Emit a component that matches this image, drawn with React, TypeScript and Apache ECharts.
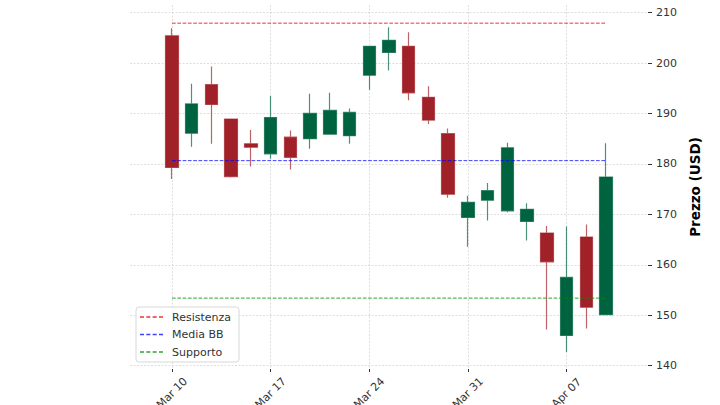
import React, { useEffect, useRef } from "react";
import * as echarts from "echarts";

const dates = ["Mar 10","Mar 11","Mar 12","Mar 13","Mar 14","Mar 17","Mar 18","Mar 19","Mar 20","Mar 21","Mar 24","Mar 25","Mar 26","Mar 27","Mar 28","Mar 31","Apr 01","Apr 02","Apr 03","Apr 04","Apr 07","Apr 08","Apr 09"];
const opens = [205.4,186.1,195.7,188.9,184.0,182.0,185.3,185.0,185.9,185.6,197.6,202.1,203.3,193.2,186.0,169.4,172.8,170.7,168.6,166.3,146.0,165.5,150.1];
const closes = [179.3,191.9,191.8,177.5,183.3,189.2,181.3,190.0,190.6,190.2,203.3,204.5,194.1,188.7,174.0,172.4,174.7,183.2,171.0,160.6,157.5,151.6,177.4];
const lows = [177.0,183.4,184.0,177.3,179.5,181.0,178.9,183.0,185.8,184.0,194.7,198.5,192.6,187.9,173.3,163.6,168.8,170.4,164.8,147.2,142.7,147.4,150.0];
const highs = [206.9,195.9,199.3,189.0,186.7,193.5,186.6,193.9,194.1,191.0,203.4,207.1,206.1,195.4,187.0,173.7,176.2,184.2,172.2,167.7,167.6,168.0,184.1];

const xTickIdx = [0, 5, 10, 15, 20];
const yTicks = [140, 150, 160, 170, 180, 190, 200, 210];

const levelNames = ["Resistenza", "Media BB", "Supporto"];
const levelValues = [207.9, 180.65, 153.4];
const levelColors = ["rgba(235,0,0,0.8)", "rgba(0,0,255,0.75)", "rgba(0,140,0,0.8)"];

const FONT = "DejaVu Sans";
const DASH_ICON = "path://M0,0h4v1.3h-4z M6.3,0h4v1.3h-4z M12.6,0h4v1.3h-4z M18.9,0h4v1.3h-4z";

export default function App() {
  const ref = useRef<HTMLDivElement>(null);
  useEffect(() => {
    if (!ref.current) return;
    const chart = echarts.init(ref.current, null, { renderer: "svg" });
    const candleData = dates.map((_, i) => [i, opens[i], closes[i], lows[i], highs[i]]);
    const gridLine = { show: true, lineStyle: { color: "#d6d6d6", width: 0.8, type: [2, 1.5] } };
    const lastIdx = dates.length - 1;
    chart.setOption({
      animation: false,
      backgroundColor: "#ffffff",
      grid: { left: 130, right: 72, top: 5, bottom: 36, containLabel: false, outerBoundsMode: "none" },
      xAxis: {
        type: "value",
        min: -2.13,
        max: lastIdx + 2.13,
        axisLine: { show: false, onZero: false },
        axisTick: { show: true, customValues: xTickIdx, length: 3, lineStyle: { color: "#333" } },
        axisLabel: {
          customValues: xTickIdx,
          formatter: (v: number) => dates[Math.round(v)] ?? "",
          rotate: 45,
          align: "center",
          verticalAlign: "middle",
          margin: 24,
          fontSize: 11,
          fontFamily: FONT,
          color: "#333",
          hideOverlap: false,
        },
        splitLine: gridLine,
      },
      yAxis: {
        type: "value",
        position: "right",
        min: 139.35,
        max: 211.5,
        axisLine: { show: false, onZero: false },
        axisTick: { show: true, customValues: yTicks, length: 4, lineStyle: { color: "#333" } },
        axisLabel: { customValues: yTicks, margin: 8, fontSize: 11, fontFamily: FONT, color: "#333" },
        splitLine: gridLine,
        name: "Prezzo (USD)",
        nameLocation: "middle",
        nameRotate: 90,
        nameGap: 34,
        nameTextStyle: { fontWeight: "bold", fontSize: 13.5, fontFamily: FONT, color: "#000" },
      },
      legend: {
        data: levelNames.map((name) => ({ name, icon: DASH_ICON })),
        orient: "vertical",
        left: 136,
        top: 307,
        itemWidth: 23,
        itemHeight: 2,
        itemGap: 4.5,
        padding: [3.5, 8, 3.5, 4],
        borderColor: "#d8d8d8",
        borderWidth: 1,
        borderRadius: 3,
        backgroundColor: "rgba(255,255,255,0.85)",
        itemStyle: { borderWidth: 0 },
        textStyle: { fontSize: 11, fontFamily: FONT, color: "#333", lineHeight: 13, padding: [0, 0, 0, 4] },
      },
      series: [
        {
          type: "candlestick",
          data: candleData,
          encode: { x: 0, y: [1, 2, 3, 4] },
          barWidth: 13,
          itemStyle: {
            color: "#006340",
            color0: "#a02128",
            borderColor: "rgba(0,99,64,0.7)",
            borderColor0: "rgba(160,33,40,0.7)",
            borderWidth: 1.2,
          },
        },
        ...levelNames.map((name, k) => ({
          type: "line",
          name,
          data: [[0, levelValues[k]], [lastIdx, levelValues[k]]],
          symbol: "none",
          silent: true,
          itemStyle: { color: levelColors[k] },
          lineStyle: { color: levelColors[k], width: 1, type: [3.7, 1.6] },
        })),
      ],
    });
    return () => chart.dispose();
  }, []);
  return <div ref={ref} style={{ position: "fixed", left: 0, top: 0, width: 720, height: 405 }} />;
}
